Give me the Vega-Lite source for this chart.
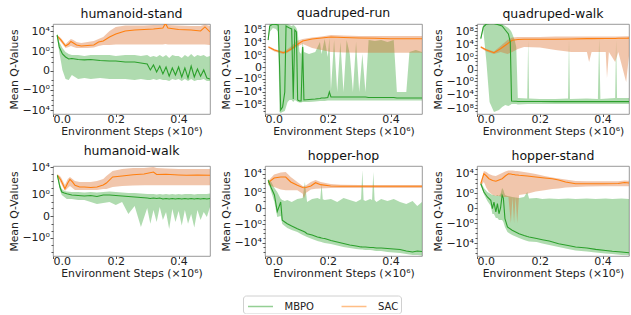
{
"$schema": "https://vega.github.io/schema/vega-lite/v6.json",
"padding": {"left": 8, "top": 6, "right": 0, "bottom": 0},
"datasets": {"d": [
{"p":"HS","m":"SAC","x":0.013,"y":1200,"lo":490,"hi":1900},
{"p":"HS","m":"SAC","x":0.025,"y":200,"lo":82,"hi":490},
{"p":"HS","m":"SAC","x":0.04,"y":13.5,"lo":5.5,"hi":33},
{"p":"HS","m":"SAC","x":0.05,"y":33,"lo":8.7,"hi":129},
{"p":"HS","m":"SAC","x":0.057,"y":103,"lo":13.5,"hi":317},
{"p":"HS","m":"SAC","x":0.065,"y":52,"lo":8.7,"hi":200},
{"p":"HS","m":"SAC","x":0.075,"y":21,"lo":5.5,"hi":82},
{"p":"HS","m":"SAC","x":0.09,"y":13.5,"lo":5.5,"hi":52},
{"p":"HS","m":"SAC","x":0.11,"y":17,"lo":5.5,"hi":82},
{"p":"HS","m":"SAC","x":0.13,"y":21,"lo":6.9,"hi":129},
{"p":"HS","m":"SAC","x":0.145,"y":82,"lo":13.5,"hi":317},
{"p":"HS","m":"SAC","x":0.16,"y":129,"lo":21,"hi":780},
{"p":"HS","m":"SAC","x":0.18,"y":780,"lo":21,"hi":11500},
{"p":"HS","m":"SAC","x":0.2,"y":2960,"lo":27,"hi":69000},
{"p":"HS","m":"SAC","x":0.23,"y":11500,"lo":27,"hi":135000},
{"p":"HS","m":"SAC","x":0.26,"y":18000,"lo":27,"hi":135000},
{"p":"HS","m":"SAC","x":0.29,"y":22000,"lo":27,"hi":135000},
{"p":"HS","m":"SAC","x":0.32,"y":28000,"lo":27,"hi":170000},
{"p":"HS","m":"SAC","x":0.35,"y":44000,"lo":27,"hi":170000},
{"p":"HS","m":"SAC","x":0.358,"y":330000,"lo":33,"hi":400000},
{"p":"HS","m":"SAC","x":0.366,"y":44000,"lo":27,"hi":170000},
{"p":"HS","m":"SAC","x":0.4,"y":22000,"lo":27,"hi":135000},
{"p":"HS","m":"SAC","x":0.44,"y":18000,"lo":27,"hi":107000},
{"p":"HS","m":"SAC","x":0.47,"y":11500,"lo":27,"hi":107000},
{"p":"HS","m":"SAC","x":0.484,"y":69000,"lo":27,"hi":210000},
{"p":"HS","m":"SAC","x":0.5,"y":7300,"lo":21,"hi":107000},
{"p":"HS","m":"MBPO","x":0.013,"y":1900,"lo":780,"hi":2960},
{"p":"HS","m":"MBPO","x":0.02,"y":8.7,"lo":0.92,"hi":82},
{"p":"HS","m":"MBPO","x":0.03,"y":0.37,"lo":0.00009,"hi":5.5},
{"p":"HS","m":"MBPO","x":0.04,"y":0.098,"lo":-0.0078,"hi":0.92},
{"p":"HS","m":"MBPO","x":0.05,"y":0.04,"lo":-0.0121,"hi":0.37},
{"p":"HS","m":"MBPO","x":0.06,"y":0.05,"lo":-0.00112,"hi":0.24},
{"p":"HS","m":"MBPO","x":0.08,"y":0.032,"lo":-0.0078,"hi":0.24},
{"p":"HS","m":"MBPO","x":0.1,"y":0.026,"lo":-0.0048,"hi":0.152},
{"p":"HS","m":"MBPO","x":0.12,"y":0.032,"lo":-0.0078,"hi":0.24},
{"p":"HS","m":"MBPO","x":0.15,"y":0.02,"lo":-0.0048,"hi":0.24},
{"p":"HS","m":"MBPO","x":0.18,"y":0.016,"lo":-0.0078,"hi":0.24},
{"p":"HS","m":"MBPO","x":0.2,"y":0.016,"lo":-0.0078,"hi":0.152},
{"p":"HS","m":"MBPO","x":0.23,"y":0.0103,"lo":-0.0078,"hi":0.24},
{"p":"HS","m":"MBPO","x":0.26,"y":0.0103,"lo":-0.0121,"hi":0.24},
{"p":"HS","m":"MBPO","x":0.28,"y":0.0065,"lo":-0.0078,"hi":0.152},
{"p":"HS","m":"MBPO","x":0.3,"y":0.0042,"lo":-0.0121,"hi":0.24},
{"p":"HS","m":"MBPO","x":0.31,"y":0.00009,"lo":-0.0121,"hi":0.098},
{"p":"HS","m":"MBPO","x":0.32,"y":0.0025,"lo":-0.0078,"hi":0.152},
{"p":"HS","m":"MBPO","x":0.33,"y":-0.00014,"lo":-0.0121,"hi":0.098},
{"p":"HS","m":"MBPO","x":0.34,"y":0.0015,"lo":-0.0078,"hi":0.24},
{"p":"HS","m":"MBPO","x":0.35,"y":-0.00063,"lo":-0.0121,"hi":0.098},
{"p":"HS","m":"MBPO","x":0.36,"y":0.0009,"lo":-0.0121,"hi":0.24},
{"p":"HS","m":"MBPO","x":0.37,"y":-0.0021,"lo":-0.0195,"hi":0.063},
{"p":"HS","m":"MBPO","x":0.38,"y":0.00051,"lo":-0.0078,"hi":0.24},
{"p":"HS","m":"MBPO","x":0.39,"y":-0.00112,"lo":-0.0121,"hi":0.152},
{"p":"HS","m":"MBPO","x":0.4,"y":0.0009,"lo":-0.0078,"hi":0.152},
{"p":"HS","m":"MBPO","x":0.41,"y":-0.003,"lo":-0.0195,"hi":0.063},
{"p":"HS","m":"MBPO","x":0.42,"y":0.00051,"lo":-0.0078,"hi":0.24},
{"p":"HS","m":"MBPO","x":0.43,"y":-0.0048,"lo":-0.0195,"hi":0.098},
{"p":"HS","m":"MBPO","x":0.44,"y":0.0015,"lo":-0.0078,"hi":0.37},
{"p":"HS","m":"MBPO","x":0.45,"y":-0.003,"lo":-0.0195,"hi":0.098},
{"p":"HS","m":"MBPO","x":0.46,"y":0.00024,"lo":-0.0121,"hi":0.24},
{"p":"HS","m":"MBPO","x":0.47,"y":-0.0021,"lo":-0.0121,"hi":0.152},
{"p":"HS","m":"MBPO","x":0.48,"y":0.00009,"lo":-0.0078,"hi":0.24},
{"p":"HS","m":"MBPO","x":0.49,"y":-0.0048,"lo":-0.0195,"hi":0.098},
{"p":"HS","m":"MBPO","x":0.5,"y":-0.0078,"lo":-0.0195,"hi":0.152},
{"p":"QR","m":"SAC","x":0.011,"y":475,"lo":233,"hi":950},
{"p":"QR","m":"SAC","x":0.03,"y":57,"lo":20,"hi":114},
{"p":"QR","m":"SAC","x":0.058,"y":8.4,"lo":3.4,"hi":20},
{"p":"QR","m":"SAC","x":0.07,"y":20,"lo":6.8,"hi":81},
{"p":"QR","m":"SAC","x":0.085,"y":140,"lo":57,"hi":950},
{"p":"QR","m":"SAC","x":0.1,"y":1900,"lo":475,"hi":33000},
{"p":"QR","m":"SAC","x":0.12,"y":33000,"lo":3900,"hi":134000},
{"p":"QR","m":"SAC","x":0.15,"y":134000,"lo":233,"hi":390000},
{"p":"QR","m":"SAC","x":0.18,"y":270000,"lo":57,"hi":790000},
{"p":"QR","m":"SAC","x":0.21,"y":550000,"lo":13.7,"hi":2300000},
{"p":"QR","m":"SAC","x":0.25,"y":390000,"lo":9.7,"hi":1600000},
{"p":"QR","m":"SAC","x":0.3,"y":270000,"lo":8.4,"hi":1100000},
{"p":"QR","m":"SAC","x":0.35,"y":220000,"lo":8.4,"hi":1100000},
{"p":"QR","m":"SAC","x":0.4,"y":165000,"lo":8.4,"hi":1100000},
{"p":"QR","m":"SAC","x":0.45,"y":165000,"lo":8.4,"hi":1100000},
{"p":"QR","m":"SAC","x":0.5,"y":165000,"lo":8.4,"hi":1100000},
{"p":"QR","m":"MBPO","x":0.01,"y":66000,"lo":16000,"hi":270000},
{"p":"QR","m":"MBPO","x":0.015,"y":1.3e9,"lo":1.9e7,"hi":5e9},
{"p":"QR","m":"MBPO","x":0.025,"y":5e9,"lo":3.1e8,"hi":1.1e10},
{"p":"QR","m":"MBPO","x":0.035,"y":3.7e9,"lo":1.6e8,"hi":1.1e10},
{"p":"QR","m":"MBPO","x":0.042,"y":2.6e9,"lo":1.9e7,"hi":1.1e10},
{"p":"QR","m":"MBPO","x":0.046,"y":0.0116,"lo":-1.6e10,"hi":1.1e10},
{"p":"QR","m":"MBPO","x":0.05,"y":-4e9,"lo":-3.4e10,"hi":5e9},
{"p":"QR","m":"MBPO","x":0.056,"y":-4.9e8,"lo":-1.6e10,"hi":5e9},
{"p":"QR","m":"MBPO","x":0.063,"y":-12000,"lo":-8.3e9,"hi":5e9},
{"p":"QR","m":"MBPO","x":0.067,"y":1.3e9,"lo":-4.9e8,"hi":5e9},
{"p":"QR","m":"MBPO","x":0.072,"y":6.4e8,"lo":-1.4e7,"hi":5e9},
{"p":"QR","m":"MBPO","x":0.078,"y":3.1e8,"lo":-3.4e6,"hi":2.6e9},
{"p":"QR","m":"MBPO","x":0.085,"y":1.6e8,"lo":-3.4e6,"hi":1.3e9},
{"p":"QR","m":"MBPO","x":0.09,"y":-1.7e6,"lo":-1.4e7,"hi":2.6e9},
{"p":"QR","m":"MBPO","x":0.095,"y":7.7e7,"lo":-3.4e6,"hi":1.3e9},
{"p":"QR","m":"MBPO","x":0.1,"y":1.9e7,"lo":-7e6,"hi":3.1e8},
{"p":"QR","m":"MBPO","x":0.104,"y":-3.4e6,"lo":-1.4e7,"hi":1.9e7},
{"p":"QR","m":"MBPO","x":0.11,"y":-7e6,"lo":-2e7,"hi":13.7},
{"p":"QR","m":"MBPO","x":0.115,"y":-7e6,"lo":-2e7,"hi":3.4},
{"p":"QR","m":"MBPO","x":0.12,"y":475,"lo":-1.4e7,"hi":16000},
{"p":"QR","m":"MBPO","x":0.124,"y":-3.4e6,"lo":-1.4e7,"hi":13.7},
{"p":"QR","m":"MBPO","x":0.14,"y":-2.4e6,"lo":-1.4e7,"hi":3.4},
{"p":"QR","m":"MBPO","x":0.16,"y":-1.7e6,"lo":-1e7,"hi":13.7},
{"p":"QR","m":"MBPO","x":0.175,"y":-1.2e6,"lo":-7e6,"hi":16000},
{"p":"QR","m":"MBPO","x":0.18,"y":-850000,"lo":-7e6,"hi":3.4},
{"p":"QR","m":"MBPO","x":0.19,"y":-850000,"lo":-7e6,"hi":134000},
{"p":"QR","m":"MBPO","x":0.2,"y":-590000,"lo":-4.9e6,"hi":0.4},
{"p":"QR","m":"MBPO","x":0.205,"y":-12000,"lo":-4.9e6,"hi":270000},
{"p":"QR","m":"MBPO","x":0.21,"y":-410000,"lo":-4.9e6,"hi":-2900},
{"p":"QR","m":"MBPO","x":0.22,"y":-410000,"lo":-4.9e6,"hi":66000},
{"p":"QR","m":"MBPO","x":0.23,"y":-410000,"lo":-4.9e6,"hi":-12000},
{"p":"QR","m":"MBPO","x":0.24,"y":-410000,"lo":-4.9e6,"hi":16000},
{"p":"QR","m":"MBPO","x":0.25,"y":-410000,"lo":-4.9e6,"hi":-12000},
{"p":"QR","m":"MBPO","x":0.26,"y":-410000,"lo":-4.9e6,"hi":66000},
{"p":"QR","m":"MBPO","x":0.27,"y":-410000,"lo":-4.9e6,"hi":3.4},
{"p":"QR","m":"MBPO","x":0.28,"y":-410000,"lo":-4.9e6,"hi":-12000},
{"p":"QR","m":"MBPO","x":0.29,"y":-410000,"lo":-4.9e6,"hi":16000},
{"p":"QR","m":"MBPO","x":0.3,"y":-410000,"lo":-4.9e6,"hi":-12000},
{"p":"QR","m":"MBPO","x":0.31,"y":-410000,"lo":-4.9e6,"hi":3.4},
{"p":"QR","m":"MBPO","x":0.32,"y":-410000,"lo":-4.9e6,"hi":-12000},
{"p":"QR","m":"MBPO","x":0.33,"y":-590000,"lo":-4.9e6,"hi":66000},
{"p":"QR","m":"MBPO","x":0.35,"y":-590000,"lo":-4.9e6,"hi":33000},
{"p":"QR","m":"MBPO","x":0.37,"y":-590000,"lo":-4.9e6,"hi":66000},
{"p":"QR","m":"MBPO","x":0.39,"y":-590000,"lo":-4.9e6,"hi":16000},
{"p":"QR","m":"MBPO","x":0.41,"y":-590000,"lo":-4.9e6,"hi":66000},
{"p":"QR","m":"MBPO","x":0.42,"y":-850000,"lo":-4.9e6,"hi":-12000},
{"p":"QR","m":"MBPO","x":0.44,"y":-850000,"lo":-4.9e6,"hi":-12000},
{"p":"QR","m":"MBPO","x":0.45,"y":-850000,"lo":-4.9e6,"hi":-12000},
{"p":"QR","m":"MBPO","x":0.46,"y":-850000,"lo":-4.9e6,"hi":13.7},
{"p":"QR","m":"MBPO","x":0.48,"y":-850000,"lo":-4.9e6,"hi":57},
{"p":"QR","m":"MBPO","x":0.5,"y":-850000,"lo":-4.9e6,"hi":13.7},
{"p":"QW","m":"SAC","x":0.012,"y":1900,"lo":950,"hi":3800},
{"p":"QW","m":"SAC","x":0.03,"y":240,"lo":85,"hi":475},
{"p":"QW","m":"SAC","x":0.054,"y":37,"lo":15,"hi":85},
{"p":"QW","m":"SAC","x":0.075,"y":585,"lo":60,"hi":3800},
{"p":"QW","m":"SAC","x":0.097,"y":18500,"lo":15,"hi":240000},
{"p":"QW","m":"SAC","x":0.112,"y":195000,"lo":60,"hi":1300000},
{"p":"QW","m":"SAC","x":0.13,"y":340000,"lo":475,"hi":1900000},
{"p":"QW","m":"SAC","x":0.15,"y":390000,"lo":1900,"hi":1900000},
{"p":"QW","m":"SAC","x":0.2,"y":390000,"lo":1300,"hi":1900000},
{"p":"QW","m":"SAC","x":0.25,"y":390000,"lo":240,"hi":2700000},
{"p":"QW","m":"SAC","x":0.3,"y":480000,"lo":60,"hi":2700000},
{"p":"QW","m":"SAC","x":0.35,"y":590000,"lo":60,"hi":2700000},
{"p":"QW","m":"SAC","x":0.357,"y":590000,"lo":0.06,"hi":2700000},
{"p":"QW","m":"SAC","x":0.365,"y":590000,"lo":60,"hi":2700000},
{"p":"QW","m":"SAC","x":0.41,"y":670000,"lo":60,"hi":2700000},
{"p":"QW","m":"SAC","x":0.414,"y":670000,"lo":-0.097,"hi":2700000},
{"p":"QW","m":"SAC","x":0.42,"y":670000,"lo":60,"hi":2700000},
{"p":"QW","m":"SAC","x":0.44,"y":670000,"lo":0.06,"hi":2700000},
{"p":"QW","m":"SAC","x":0.45,"y":770000,"lo":60,"hi":2700000},
{"p":"QW","m":"SAC","x":0.475,"y":830000,"lo":-1.5,"hi":3000000},
{"p":"QW","m":"SAC","x":0.485,"y":890000,"lo":30,"hi":3000000},
{"p":"QW","m":"SAC","x":0.5,"y":950000,"lo":30,"hi":3000000},
{"p":"QW","m":"MBPO","x":0.012,"y":590000,"lo":240000,"hi":1900000},
{"p":"QW","m":"MBPO","x":0.02,"y":1.9e9,"lo":2.4e8,"hi":7.7e9},
{"p":"QW","m":"MBPO","x":0.03,"y":1.5e10,"lo":0.06,"hi":2.2e10},
{"p":"QW","m":"MBPO","x":0.04,"y":2.2e10,"lo":-1.5e6,"hi":3e10},
{"p":"QW","m":"MBPO","x":0.054,"y":2.2e10,"lo":-1.6e9,"hi":3e10},
{"p":"QW","m":"MBPO","x":0.07,"y":7.7e9,"lo":-4e8,"hi":2.2e10},
{"p":"QW","m":"MBPO","x":0.08,"y":3.9e9,"lo":-4.9e7,"hi":1.5e10},
{"p":"QW","m":"MBPO","x":0.09,"y":2.4e8,"lo":-1.2e7,"hi":3.9e9},
{"p":"QW","m":"MBPO","x":0.1,"y":1.5e7,"lo":-2.5e7,"hi":9.7e8},
{"p":"QW","m":"MBPO","x":0.106,"y":60000,"lo":-1.2e7,"hi":2.4e8},
{"p":"QW","m":"MBPO","x":0.11,"y":-770000,"lo":-6.3e6,"hi":6.2e7},
{"p":"QW","m":"MBPO","x":0.12,"y":-950000,"lo":-6.3e6,"hi":240000},
{"p":"QW","m":"MBPO","x":0.125,"y":-950000,"lo":-6.3e6,"hi":1900},
{"p":"QW","m":"MBPO","x":0.13,"y":-1.1e6,"lo":-8.9e6,"hi":-97000},
{"p":"QW","m":"MBPO","x":0.16,"y":-1.1e6,"lo":-6.3e6,"hi":-140000},
{"p":"QW","m":"MBPO","x":0.163,"y":-1.1e6,"lo":-6.3e6,"hi":240000},
{"p":"QW","m":"MBPO","x":0.166,"y":-1.1e6,"lo":-6.3e6,"hi":-140000},
{"p":"QW","m":"MBPO","x":0.2,"y":-1.1e6,"lo":-6.3e6,"hi":-195000},
{"p":"QW","m":"MBPO","x":0.25,"y":-1.25e6,"lo":-6.3e6,"hi":-195000},
{"p":"QW","m":"MBPO","x":0.29,"y":-1.25e6,"lo":-6.3e6,"hi":-140000},
{"p":"QW","m":"MBPO","x":0.293,"y":-1.25e6,"lo":-6.3e6,"hi":240000},
{"p":"QW","m":"MBPO","x":0.296,"y":-1.25e6,"lo":-6.3e6,"hi":-195000},
{"p":"QW","m":"MBPO","x":0.35,"y":-1.25e6,"lo":-6.3e6,"hi":-140000},
{"p":"QW","m":"MBPO","x":0.385,"y":-1.25e6,"lo":-6.3e6,"hi":-195000},
{"p":"QW","m":"MBPO","x":0.389,"y":-1.25e6,"lo":-6.3e6,"hi":670000},
{"p":"QW","m":"MBPO","x":0.393,"y":-1.25e6,"lo":-6.3e6,"hi":-195000},
{"p":"QW","m":"MBPO","x":0.44,"y":-1.25e6,"lo":-6.3e6,"hi":-97000},
{"p":"QW","m":"MBPO","x":0.443,"y":-1.25e6,"lo":-6.3e6,"hi":240000},
{"p":"QW","m":"MBPO","x":0.446,"y":-1.25e6,"lo":-6.3e6,"hi":-97000},
{"p":"QW","m":"MBPO","x":0.5,"y":-1.25e6,"lo":-6.3e6,"hi":-97000},
{"p":"HW","m":"SAC","x":0.014,"y":635,"lo":366,"hi":990},
{"p":"HW","m":"SAC","x":0.025,"y":133,"lo":49,"hi":366},
{"p":"HW","m":"SAC","x":0.038,"y":7.5,"lo":3.5,"hi":25},
{"p":"HW","m":"SAC","x":0.047,"y":49,"lo":9.4,"hi":187},
{"p":"HW","m":"SAC","x":0.054,"y":167,"lo":18.3,"hi":366},
{"p":"HW","m":"SAC","x":0.062,"y":70,"lo":9.4,"hi":187},
{"p":"HW","m":"SAC","x":0.07,"y":23,"lo":4.8,"hi":96},
{"p":"HW","m":"SAC","x":0.085,"y":13,"lo":4.8,"hi":70},
{"p":"HW","m":"SAC","x":0.1,"y":13,"lo":4.8,"hi":70},
{"p":"HW","m":"SAC","x":0.12,"y":11,"lo":4.8,"hi":70},
{"p":"HW","m":"SAC","x":0.14,"y":13,"lo":4.8,"hi":96},
{"p":"HW","m":"SAC","x":0.16,"y":25,"lo":6.7,"hi":187},
{"p":"HW","m":"SAC","x":0.17,"y":49,"lo":6.7,"hi":505},
{"p":"HW","m":"SAC","x":0.19,"y":366,"lo":13,"hi":2600},
{"p":"HW","m":"SAC","x":0.22,"y":505,"lo":18.3,"hi":5200},
{"p":"HW","m":"SAC","x":0.255,"y":780,"lo":21.5,"hi":7300},
{"p":"HW","m":"SAC","x":0.29,"y":990,"lo":23,"hi":7300},
{"p":"HW","m":"SAC","x":0.32,"y":1900,"lo":23,"hi":10000},
{"p":"HW","m":"SAC","x":0.33,"y":840,"lo":23,"hi":7300},
{"p":"HW","m":"SAC","x":0.36,"y":900,"lo":23,"hi":6100},
{"p":"HW","m":"SAC","x":0.4,"y":710,"lo":23,"hi":5200},
{"p":"HW","m":"SAC","x":0.425,"y":635,"lo":23,"hi":5200},
{"p":"HW","m":"SAC","x":0.46,"y":710,"lo":23,"hi":5200},
{"p":"HW","m":"SAC","x":0.5,"y":635,"lo":23,"hi":5200},
{"p":"HW","m":"MBPO","x":0.014,"y":635,"lo":366,"hi":990},
{"p":"HW","m":"MBPO","x":0.022,"y":13,"lo":4.8,"hi":36},
{"p":"HW","m":"MBPO","x":0.028,"y":2.5,"lo":0.92,"hi":6.7},
{"p":"HW","m":"MBPO","x":0.036,"y":1.8,"lo":0.47,"hi":3.5},
{"p":"HW","m":"MBPO","x":0.044,"y":1.42,"lo":0.24,"hi":2.9},
{"p":"HW","m":"MBPO","x":0.06,"y":0.92,"lo":0.24,"hi":2.5},
{"p":"HW","m":"MBPO","x":0.08,"y":0.78,"lo":0.17,"hi":2.5},
{"p":"HW","m":"MBPO","x":0.1,"y":0.65,"lo":0.17,"hi":2.1},
{"p":"HW","m":"MBPO","x":0.12,"y":0.78,"lo":0.089,"hi":2.5},
{"p":"HW","m":"MBPO","x":0.14,"y":0.55,"lo":0.045,"hi":2.1},
{"p":"HW","m":"MBPO","x":0.16,"y":0.92,"lo":0.063,"hi":2.5},
{"p":"HW","m":"MBPO","x":0.18,"y":0.92,"lo":0.089,"hi":2.9},
{"p":"HW","m":"MBPO","x":0.2,"y":0.78,"lo":0.033,"hi":2.5},
{"p":"HW","m":"MBPO","x":0.22,"y":0.65,"lo":0.089,"hi":2.1},
{"p":"HW","m":"MBPO","x":0.24,"y":0.55,"lo":0.0008,"hi":1.8},
{"p":"HW","m":"MBPO","x":0.26,"y":0.47,"lo":0.023,"hi":1.8},
{"p":"HW","m":"MBPO","x":0.28,"y":0.4,"lo":-0.028,"hi":1.5},
{"p":"HW","m":"MBPO","x":0.3,"y":0.34,"lo":0.0114,"hi":1.27},
{"p":"HW","m":"MBPO","x":0.31,"y":0.28,"lo":-0.0087,"hi":1.27},
{"p":"HW","m":"MBPO","x":0.32,"y":0.34,"lo":0.0054,"hi":1.27},
{"p":"HW","m":"MBPO","x":0.33,"y":0.28,"lo":-0.0046,"hi":1.08},
{"p":"HW","m":"MBPO","x":0.34,"y":0.34,"lo":0.0164,"hi":1.27},
{"p":"HW","m":"MBPO","x":0.35,"y":0.24,"lo":-0.002,"hi":1.08},
{"p":"HW","m":"MBPO","x":0.36,"y":0.28,"lo":0.0024,"hi":1.27},
{"p":"HW","m":"MBPO","x":0.37,"y":0.24,"lo":-0.056,"hi":1.08},
{"p":"HW","m":"MBPO","x":0.38,"y":0.28,"lo":0.0081,"hi":1.27},
{"p":"HW","m":"MBPO","x":0.39,"y":0.24,"lo":-0.0046,"hi":1.08},
{"p":"HW","m":"MBPO","x":0.4,"y":0.28,"lo":0.0036,"hi":1.27},
{"p":"HW","m":"MBPO","x":0.41,"y":0.24,"lo":-0.0165,"hi":1.08},
{"p":"HW","m":"MBPO","x":0.42,"y":0.28,"lo":0.0054,"hi":1.27},
{"p":"HW","m":"MBPO","x":0.43,"y":0.24,"lo":-0.0087,"hi":1.27},
{"p":"HW","m":"MBPO","x":0.44,"y":0.28,"lo":0.0008,"hi":1.27},
{"p":"HW","m":"MBPO","x":0.45,"y":0.24,"lo":-0.032,"hi":1.08},
{"p":"HW","m":"MBPO","x":0.46,"y":0.28,"lo":0.0054,"hi":1.27},
{"p":"HW","m":"MBPO","x":0.47,"y":0.24,"lo":-0.002,"hi":1.27},
{"p":"HW","m":"MBPO","x":0.48,"y":0.28,"lo":0.0024,"hi":1.27},
{"p":"HW","m":"MBPO","x":0.49,"y":0.24,"lo":-0.0002,"hi":1.27},
{"p":"HW","m":"MBPO","x":0.5,"y":0.28,"lo":0.0164,"hi":1.5},
{"p":"HH","m":"SAC","x":0.01,"y":113,"lo":36,"hi":260},
{"p":"HH","m":"SAC","x":0.029,"y":1160,"lo":13.3,"hi":6700},
{"p":"HH","m":"SAC","x":0.05,"y":1900,"lo":3.8,"hi":18000},
{"p":"HH","m":"SAC","x":0.066,"y":1900,"lo":2.6,"hi":23000},
{"p":"HH","m":"SAC","x":0.082,"y":160,"lo":2.6,"hi":1900},
{"p":"HH","m":"SAC","x":0.103,"y":31,"lo":2.6,"hi":160},
{"p":"HH","m":"SAC","x":0.12,"y":10.3,"lo":0.47,"hi":21.6},
{"p":"HH","m":"SAC","x":0.124,"y":9.4,"lo":0.039,"hi":21.6},
{"p":"HH","m":"SAC","x":0.13,"y":10.3,"lo":0.67,"hi":28},
{"p":"HH","m":"SAC","x":0.146,"y":21.6,"lo":3.8,"hi":160},
{"p":"HH","m":"SAC","x":0.161,"y":113,"lo":5.7,"hi":430},
{"p":"HH","m":"SAC","x":0.177,"y":42,"lo":6.2,"hi":160},
{"p":"HH","m":"SAC","x":0.209,"y":21.6,"lo":8,"hi":60},
{"p":"HH","m":"SAC","x":0.241,"y":19,"lo":8,"hi":42},
{"p":"HH","m":"SAC","x":0.3,"y":19,"lo":8,"hi":36},
{"p":"HH","m":"SAC","x":0.4,"y":19,"lo":8,"hi":36},
{"p":"HH","m":"SAC","x":0.5,"y":19,"lo":8,"hi":36},
{"p":"HH","m":"MBPO","x":0.01,"y":375,"lo":160,"hi":715},
{"p":"HH","m":"MBPO","x":0.02,"y":8,"lo":1.1,"hi":160},
{"p":"HH","m":"MBPO","x":0.03,"y":0.25,"lo":0.0073,"hi":8},
{"p":"HH","m":"MBPO","x":0.039,"y":-0.0016,"lo":-0.028,"hi":1.1},
{"p":"HH","m":"MBPO","x":0.05,"y":0.0073,"lo":-0.0164,"hi":0.039},
{"p":"HH","m":"MBPO","x":0.055,"y":-0.14,"lo":-0.9,"hi":0.02},
{"p":"HH","m":"MBPO","x":0.063,"y":-0.33,"lo":-2.4,"hi":0.0124},
{"p":"HH","m":"MBPO","x":0.071,"y":-0.78,"lo":-6.6,"hi":0.02},
{"p":"HH","m":"MBPO","x":0.085,"y":-2.4,"lo":-18,"hi":0.0073},
{"p":"HH","m":"MBPO","x":0.103,"y":-9.4,"lo":-48,"hi":0.034},
{"p":"HH","m":"MBPO","x":0.12,"y":-29,"lo":-215,"hi":0.055},
{"p":"HH","m":"MBPO","x":0.127,"y":-48,"lo":-350,"hi":160},
{"p":"HH","m":"MBPO","x":0.134,"y":-113,"lo":-580,"hi":0.0073},
{"p":"HH","m":"MBPO","x":0.15,"y":-215,"lo":-1600,"hi":0.034},
{"p":"HH","m":"MBPO","x":0.167,"y":-580,"lo":-4200,"hi":0.055},
{"p":"HH","m":"MBPO","x":0.176,"y":-800,"lo":-6000,"hi":0.03},
{"p":"HH","m":"MBPO","x":0.18,"y":-960,"lo":-7000,"hi":60},
{"p":"HH","m":"MBPO","x":0.184,"y":-1100,"lo":-9000,"hi":0.03},
{"p":"HH","m":"MBPO","x":0.19,"y":-1200,"lo":-11500,"hi":0.02},
{"p":"HH","m":"MBPO","x":0.21,"y":-3300,"lo":-19000,"hi":0.034},
{"p":"HH","m":"MBPO","x":0.23,"y":-7000,"lo":-40000,"hi":0.0073},
{"p":"HH","m":"MBPO","x":0.25,"y":-15000,"lo":-84000,"hi":0.055},
{"p":"HH","m":"MBPO","x":0.27,"y":-31000,"lo":-140000,"hi":0.02},
{"p":"HH","m":"MBPO","x":0.29,"y":-51000,"lo":-230000,"hi":0.0073},
{"p":"HH","m":"MBPO","x":0.306,"y":-80000,"lo":-280000,"hi":0.03},
{"p":"HH","m":"MBPO","x":0.31,"y":-84000,"lo":-290000,"hi":54000},
{"p":"HH","m":"MBPO","x":0.314,"y":-84000,"lo":-330000,"hi":0.02},
{"p":"HH","m":"MBPO","x":0.32,"y":-84000,"lo":-370000,"hi":0.0124},
{"p":"HH","m":"MBPO","x":0.335,"y":-108000,"lo":-370000,"hi":0.034},
{"p":"HH","m":"MBPO","x":0.341,"y":-108000,"lo":-420000,"hi":0.02},
{"p":"HH","m":"MBPO","x":0.345,"y":-108000,"lo":-480000,"hi":23000},
{"p":"HH","m":"MBPO","x":0.349,"y":-120000,"lo":-520000,"hi":0.02},
{"p":"HH","m":"MBPO","x":0.355,"y":-140000,"lo":-610000,"hi":0.0073},
{"p":"HH","m":"MBPO","x":0.37,"y":-140000,"lo":-610000,"hi":0.034},
{"p":"HH","m":"MBPO","x":0.39,"y":-175000,"lo":-1000000,"hi":0.0124},
{"p":"HH","m":"MBPO","x":0.41,"y":-230000,"lo":-1300000,"hi":0.034},
{"p":"HH","m":"MBPO","x":0.43,"y":-290000,"lo":-1700000,"hi":0.0073},
{"p":"HH","m":"MBPO","x":0.45,"y":-610000,"lo":-2700000,"hi":0.0025},
{"p":"HH","m":"MBPO","x":0.47,"y":-1000000,"lo":-4500000,"hi":0.0124},
{"p":"HH","m":"MBPO","x":0.485,"y":-610000,"lo":-4500000,"hi":0.00069},
{"p":"HH","m":"MBPO","x":0.5,"y":-800000,"lo":-5800000,"hi":0.0073},
{"p":"HT","m":"SAC","x":0.012,"y":90,"lo":30,"hi":200},
{"p":"HT","m":"SAC","x":0.022,"y":10000,"lo":200,"hi":36000},
{"p":"HT","m":"SAC","x":0.03,"y":3400,"lo":11.8,"hi":23000},
{"p":"HT","m":"SAC","x":0.038,"y":960,"lo":1.8,"hi":8800},
{"p":"HT","m":"SAC","x":0.05,"y":410,"lo":0.44,"hi":4300},
{"p":"HT","m":"SAC","x":0.06,"y":280,"lo":0.27,"hi":3400},
{"p":"HT","m":"SAC","x":0.07,"y":520,"lo":0.27,"hi":7000},
{"p":"HT","m":"SAC","x":0.08,"y":960,"lo":0.17,"hi":14000},
{"p":"HT","m":"SAC","x":0.09,"y":3400,"lo":0.17,"hi":28000},
{"p":"HT","m":"SAC","x":0.1,"y":10000,"lo":0.17,"hi":46000},
{"p":"HT","m":"SAC","x":0.108,"y":8800,"lo":-0.8,"hi":46000},
{"p":"HT","m":"SAC","x":0.113,"y":7000,"lo":0.17,"hi":46000},
{"p":"HT","m":"SAC","x":0.118,"y":7000,"lo":-0.8,"hi":39000},
{"p":"HT","m":"SAC","x":0.123,"y":5400,"lo":0.17,"hi":36000},
{"p":"HT","m":"SAC","x":0.128,"y":5400,"lo":-0.8,"hi":36000},
{"p":"HT","m":"SAC","x":0.134,"y":4700,"lo":0.44,"hi":31000},
{"p":"HT","m":"SAC","x":0.16,"y":3400,"lo":0.8,"hi":18000},
{"p":"HT","m":"SAC","x":0.187,"y":2100,"lo":2.2,"hi":8800},
{"p":"HT","m":"SAC","x":0.215,"y":1330,"lo":4,"hi":3400},
{"p":"HT","m":"SAC","x":0.24,"y":960,"lo":7.3,"hi":1700},
{"p":"HT","m":"SAC","x":0.26,"y":520,"lo":9.3,"hi":1050},
{"p":"HT","m":"SAC","x":0.282,"y":200,"lo":15,"hi":650},
{"p":"HT","m":"SAC","x":0.314,"y":90,"lo":19,"hi":320},
{"p":"HT","m":"SAC","x":0.35,"y":90,"lo":24,"hi":280},
{"p":"HT","m":"SAC","x":0.4,"y":90,"lo":26,"hi":280},
{"p":"HT","m":"SAC","x":0.45,"y":98,"lo":26,"hi":280},
{"p":"HT","m":"SAC","x":0.47,"y":160,"lo":26,"hi":410},
{"p":"HT","m":"SAC","x":0.5,"y":90,"lo":26,"hi":280},
{"p":"HT","m":"MBPO","x":0.012,"y":90,"lo":48,"hi":200},
{"p":"HT","m":"MBPO","x":0.022,"y":1.8,"lo":0.69,"hi":11.8},
{"p":"HT","m":"MBPO","x":0.033,"y":0.17,"lo":0.025,"hi":1.8},
{"p":"HT","m":"MBPO","x":0.044,"y":0.035,"lo":0.0016,"hi":0.69},
{"p":"HT","m":"MBPO","x":0.049,"y":-0.00014,"lo":-0.011,"hi":0.44},
{"p":"HT","m":"MBPO","x":0.054,"y":0.0152,"lo":-0.011,"hi":0.44},
{"p":"HT","m":"MBPO","x":0.06,"y":-0.0037,"lo":-0.076,"hi":0.27},
{"p":"HT","m":"MBPO","x":0.065,"y":0.0064,"lo":-0.076,"hi":0.44},
{"p":"HT","m":"MBPO","x":0.07,"y":-0.0094,"lo":-0.19,"hi":0.27},
{"p":"HT","m":"MBPO","x":0.075,"y":0.00014,"lo":-0.19,"hi":0.69},
{"p":"HT","m":"MBPO","x":0.08,"y":0.37,"lo":-0.19,"hi":11.8},
{"p":"HT","m":"MBPO","x":0.084,"y":0.1,"lo":-0.5,"hi":4.6},
{"p":"HT","m":"MBPO","x":0.089,"y":-0.105,"lo":-5.3,"hi":0.44},
{"p":"HT","m":"MBPO","x":0.097,"y":-5.3,"lo":-57,"hi":0.27},
{"p":"HT","m":"MBPO","x":0.112,"y":-25,"lo":-230,"hi":0.17},
{"p":"HT","m":"MBPO","x":0.134,"y":-124,"lo":-960,"hi":0.1},
{"p":"HT","m":"MBPO","x":0.15,"y":-290,"lo":-2400,"hi":0.17},
{"p":"HT","m":"MBPO","x":0.16,"y":-470,"lo":-3900,"hi":1.8},
{"p":"HT","m":"MBPO","x":0.166,"y":-590,"lo":-4900,"hi":0.083},
{"p":"HT","m":"MBPO","x":0.19,"y":-1200,"lo":-6200,"hi":0.1},
{"p":"HT","m":"MBPO","x":0.208,"y":-2100,"lo":-12700,"hi":0.066},
{"p":"HT","m":"MBPO","x":0.23,"y":-3900,"lo":-26000,"hi":0.083},
{"p":"HT","m":"MBPO","x":0.26,"y":-14000,"lo":-66000,"hi":0.066},
{"p":"HT","m":"MBPO","x":0.29,"y":-33000,"lo":-170000,"hi":0.083},
{"p":"HT","m":"MBPO","x":0.314,"y":-66000,"lo":-350000,"hi":0.066},
{"p":"HT","m":"MBPO","x":0.35,"y":-105000,"lo":-550000,"hi":0.083},
{"p":"HT","m":"MBPO","x":0.378,"y":-200000,"lo":-900000,"hi":0.066},
{"p":"HT","m":"MBPO","x":0.41,"y":-350000,"lo":-1400000,"hi":0.083},
{"p":"HT","m":"MBPO","x":0.431,"y":-500000,"lo":-1800000,"hi":0.066},
{"p":"HT","m":"MBPO","x":0.46,"y":-700000,"lo":-2900000,"hi":0.083},
{"p":"HT","m":"MBPO","x":0.484,"y":-980000,"lo":-3300000,"hi":0.066},
{"p":"HT","m":"MBPO","x":0.5,"y":-1100000,"lo":-3700000,"hi":0.066}
]},
"columns": 3,
"spacing": {"column": 55, "row": 52},
"bounds": "flush",
"concat": [
{"title": "humanoid-stand", "width": 157, "height": 90, "data": {"name": "d"},
 "transform": [{"filter": "datum.p === 'HS'"}],
 "encoding": {"x": {"field": "x", "type": "quantitative", "scale": {"domain": [0, 0.5], "nice": false, "zero": false}, "axis": {"values": [0, 0.2, 0.4], "format": ".1f"}, "title": "Environment Steps (×10⁶)"}},
 "layer": [
  {"transform": [{"filter": "datum.m === 'MBPO'"}], "mark": {"type": "area", "clip": true, "fill": "#2ca02c", "fillOpacity": 0.38},
   "encoding": {"y": {"field": "lo", "type": "quantitative", "scale": {"type": "symlog", "constant": 0.0002, "domain": [-53000, 260000], "nice": false, "zero": false}, "axis": {"values": [-10000, -1, 0, 1, 10000], "labelExpr": "datum.value == 0 ? '0' : (datum.value < 0 ? '−' : '') + '10' + (abs(datum.value) >= 1e8 ? '⁸' : abs(datum.value) >= 1e4 ? '⁴' : '⁰')"}, "title": "Mean Q-Values"}, "y2": {"field": "hi"}}},
  {"transform": [{"filter": "datum.m === 'SAC'"}], "mark": {"type": "area", "clip": true, "fill": "#db6a25", "fillOpacity": 0.38},
   "encoding": {"y": {"field": "lo", "type": "quantitative", "axis": null}, "y2": {"field": "hi"}}},
  {"mark": {"type": "line", "clip": true, "strokeWidth": 1.1},
   "encoding": {"y": {"field": "y", "type": "quantitative", "axis": {"orient": "left", "values": [0.01, 0.1, 10, 100, 1000, 100000, -0.01, -0.1, -10, -100, -1000], "labels": false, "tickSize": 2, "title": null}},
    "color": {"field": "m", "type": "nominal", "scale": {"domain": ["MBPO", "SAC"], "range": ["#2ca02c", "#ff7f0e"]},
     "legend": {"orient": "none", "legendX": 190, "legendY": 271.5, "direction": "horizontal", "title": null, "symbolType": "M-1.56,0H1.56", "symbolSize": 256, "symbolOffset": 6.5, "symbolStrokeWidth": 1.5, "symbolOpacity": 0.5, "labelFont": "DejaVu Sans", "labelFontSize": 10, "labelColor": "#222", "labelOffset": 15, "columnPadding": 24.5, "strokeColor": "#d0d0d0", "padding": 2, "cornerRadius": 3}}}}
 ],
 "resolve": {"axis": {"y": "independent"}}},
{"title": "quadruped-run", "width": 157, "height": 90, "data": {"name": "d"},
 "transform": [{"filter": "datum.p === 'QR'"}],
 "encoding": {"x": {"field": "x", "type": "quantitative", "scale": {"domain": [0, 0.5], "nice": false, "zero": false}, "axis": {"values": [0, 0.2, 0.4], "format": ".1f"}, "title": "Environment Steps (×10⁶)"}},
 "layer": [
  {"transform": [{"filter": "datum.m === 'MBPO'"}], "mark": {"type": "area", "clip": true, "fill": "#2ca02c", "fillOpacity": 0.38},
   "encoding": {"y": {"field": "lo", "type": "quantitative", "scale": {"type": "symlog", "constant": 0.0003, "domain": [-6.9e10, 5.3e9], "nice": false, "zero": false}, "axis": {"values": [-1e8, -10000, -1, 0, 1, 10000, 1e8], "labelExpr": "datum.value == 0 ? '0' : (datum.value < 0 ? '−' : '') + '10' + (abs(datum.value) >= 1e8 ? '⁸' : abs(datum.value) >= 1e4 ? '⁴' : '⁰')"}, "title": "Mean Q-Values"}, "y2": {"field": "hi"}}},
  {"transform": [{"filter": "datum.m === 'SAC'"}], "mark": {"type": "area", "clip": true, "fill": "#db6a25", "fillOpacity": 0.38},
   "encoding": {"y": {"field": "lo", "type": "quantitative", "axis": null}, "y2": {"field": "hi"}}},
  {"mark": {"type": "line", "clip": true, "strokeWidth": 1.1},
   "encoding": {"y": {"field": "y", "type": "quantitative", "axis": {"orient": "left", "values": [0.01, 0.1, 10, 100, 1000, 100000, 1e6, 1e7, 1e9, -0.01, -0.1, -10, -100, -1000, -100000, -1e6, -1e7, -1e9, -1e10], "labels": false, "tickSize": 2, "title": null}},
    "color": {"field": "m", "type": "nominal"}}}
 ],
 "resolve": {"axis": {"y": "independent"}}},
{"title": "quadruped-walk", "width": 152, "height": 90, "data": {"name": "d"},
 "transform": [{"filter": "datum.p === 'QW'"}],
 "encoding": {"x": {"field": "x", "type": "quantitative", "scale": {"domain": [0, 0.48408], "nice": false, "zero": false}, "axis": {"values": [0, 0.2, 0.4], "format": ".1f"}, "title": "Environment Steps (×10⁶)"}},
 "layer": [
  {"transform": [{"filter": "datum.m === 'MBPO'"}], "mark": {"type": "area", "clip": true, "fill": "#2ca02c", "fillOpacity": 0.38},
   "encoding": {"y": {"field": "lo", "type": "quantitative", "scale": {"type": "symlog", "constant": 0.0003, "domain": [-6.3e9, 1.5e10], "nice": false, "zero": false}, "axis": {"values": [-1e8, -10000, -1, 0, 1, 10000, 1e8], "labelExpr": "datum.value == 0 ? '0' : (datum.value < 0 ? '−' : '') + '10' + (abs(datum.value) >= 1e8 ? '⁸' : abs(datum.value) >= 1e4 ? '⁴' : '⁰')"}, "title": "Mean Q-Values"}, "y2": {"field": "hi"}}},
  {"transform": [{"filter": "datum.m === 'SAC'"}], "mark": {"type": "area", "clip": true, "fill": "#db6a25", "fillOpacity": 0.38},
   "encoding": {"y": {"field": "lo", "type": "quantitative", "axis": null}, "y2": {"field": "hi"}}},
  {"mark": {"type": "line", "clip": true, "strokeWidth": 1.1},
   "encoding": {"y": {"field": "y", "type": "quantitative", "axis": {"orient": "left", "values": [0.01, 0.1, 10, 100, 1000, 100000, 1e6, 1e7, 1e9, 1e10, -0.01, -0.1, -10, -100, -1000, -100000, -1e6, -1e7, -1e9], "labels": false, "tickSize": 2, "title": null}},
    "color": {"field": "m", "type": "nominal"}}}
 ],
 "resolve": {"axis": {"y": "independent"}}},
{"title": "humanoid-walk", "width": 157, "height": 90, "data": {"name": "d"},
 "transform": [{"filter": "datum.p === 'HW'"}],
 "encoding": {"x": {"field": "x", "type": "quantitative", "scale": {"domain": [0, 0.5], "nice": false, "zero": false}, "axis": {"values": [0, 0.2, 0.4], "format": ".1f"}, "title": "Environment Steps (×10⁶)"}},
 "layer": [
  {"transform": [{"filter": "datum.m === 'MBPO'"}], "mark": {"type": "area", "clip": true, "fill": "#2ca02c", "fillOpacity": 0.38},
   "encoding": {"y": {"field": "lo", "type": "quantitative", "scale": {"type": "symlog", "constant": 0.0008, "domain": [-440, 14000], "nice": false, "zero": false}, "axis": {"values": [-1, 0, 1, 10000], "labelExpr": "datum.value == 0 ? '0' : (datum.value < 0 ? '−' : '') + '10' + (abs(datum.value) >= 1e8 ? '⁸' : abs(datum.value) >= 1e4 ? '⁴' : '⁰')"}, "title": "Mean Q-Values"}, "y2": {"field": "hi"}}},
  {"transform": [{"filter": "datum.m === 'SAC'"}], "mark": {"type": "area", "clip": true, "fill": "#db6a25", "fillOpacity": 0.38},
   "encoding": {"y": {"field": "lo", "type": "quantitative", "axis": null}, "y2": {"field": "hi"}}},
  {"mark": {"type": "line", "clip": true, "strokeWidth": 1.1},
   "encoding": {"y": {"field": "y", "type": "quantitative", "axis": {"orient": "left", "values": [0.01, 0.1, 10, 100, 1000, -0.01, -0.1, -10, -100], "labels": false, "tickSize": 2, "title": null}},
    "color": {"field": "m", "type": "nominal"}}}
 ],
 "resolve": {"axis": {"y": "independent"}}},
{"title": "hopper-hop", "width": 157, "height": 90, "data": {"name": "d"},
 "transform": [{"filter": "datum.p === 'HH'"}],
 "encoding": {"x": {"field": "x", "type": "quantitative", "scale": {"domain": [0, 0.5], "nice": false, "zero": false}, "axis": {"values": [0, 0.2, 0.4], "format": ".1f"}, "title": "Environment Steps (×10⁶)"}},
 "layer": [
  {"transform": [{"filter": "datum.m === 'MBPO'"}], "mark": {"type": "area", "clip": true, "fill": "#2ca02c", "fillOpacity": 0.38},
   "encoding": {"y": {"field": "lo", "type": "quantitative", "scale": {"type": "symlog", "constant": 0.00035, "domain": [-7.3e6, 450000], "nice": false, "zero": false}, "axis": {"values": [-10000, -1, 0, 1, 10000], "labelExpr": "datum.value == 0 ? '0' : (datum.value < 0 ? '−' : '') + '10' + (abs(datum.value) >= 1e8 ? '⁸' : abs(datum.value) >= 1e4 ? '⁴' : '⁰')"}, "title": "Mean Q-Values"}, "y2": {"field": "hi"}}},
  {"transform": [{"filter": "datum.m === 'SAC'"}], "mark": {"type": "area", "clip": true, "fill": "#db6a25", "fillOpacity": 0.38},
   "encoding": {"y": {"field": "lo", "type": "quantitative", "axis": null}, "y2": {"field": "hi"}}},
  {"mark": {"type": "line", "clip": true, "strokeWidth": 1.1},
   "encoding": {"y": {"field": "y", "type": "quantitative", "axis": {"orient": "left", "values": [0.01, 0.1, 10, 100, 1000, 100000, -0.01, -0.1, -10, -100, -1000, -100000, -1e6], "labels": false, "tickSize": 2, "title": null}},
    "color": {"field": "m", "type": "nominal"}}}
 ],
 "resolve": {"axis": {"y": "independent"}}},
{"title": "hopper-stand", "width": 152, "height": 90, "data": {"name": "d"},
 "transform": [{"filter": "datum.p === 'HT'"}],
 "encoding": {"x": {"field": "x", "type": "quantitative", "scale": {"domain": [0, 0.48408], "nice": false, "zero": false}, "axis": {"values": [0, 0.2, 0.4], "format": ".1f"}, "title": "Environment Steps (×10⁶)"}},
 "layer": [
  {"transform": [{"filter": "datum.m === 'MBPO'"}], "mark": {"type": "area", "clip": true, "fill": "#2ca02c", "fillOpacity": 0.38},
   "encoding": {"y": {"field": "lo", "type": "quantitative", "scale": {"type": "symlog", "constant": 0.0008, "domain": [-4.6e6, 380000], "nice": false, "zero": false}, "axis": {"values": [-10000, -1, 0, 1, 10000], "labelExpr": "datum.value == 0 ? '0' : (datum.value < 0 ? '−' : '') + '10' + (abs(datum.value) >= 1e8 ? '⁸' : abs(datum.value) >= 1e4 ? '⁴' : '⁰')"}, "title": "Mean Q-Values"}, "y2": {"field": "hi"}}},
  {"transform": [{"filter": "datum.m === 'SAC'"}], "mark": {"type": "area", "clip": true, "fill": "#db6a25", "fillOpacity": 0.38},
   "encoding": {"y": {"field": "lo", "type": "quantitative", "axis": null}, "y2": {"field": "hi"}}},
  {"mark": {"type": "line", "clip": true, "strokeWidth": 1.1},
   "encoding": {"y": {"field": "y", "type": "quantitative", "axis": {"orient": "left", "values": [0.01, 0.1, 10, 100, 1000, 100000, -0.01, -0.1, -10, -100, -1000, -100000, -1e6], "labels": false, "tickSize": 2, "title": null}},
    "color": {"field": "m", "type": "nominal"}}}
 ],
 "resolve": {"axis": {"y": "independent"}}}
],
"config": {
 "view": {"stroke": "#808080", "strokeWidth": 0.8},
 "axis": {"grid": false, "domain": false, "labelOverlap": false, "tickColor": "#555", "tickSize": 3.5, "labelFont": "DejaVu Sans", "labelFontSize": 11, "labelColor": "#222", "labelPadding": 1, "titleFont": "DejaVu Sans", "titleFontSize": 10.8, "titleFontWeight": "normal", "titleColor": "#222", "titlePadding": 1},
 "axisX": {"labelPadding": -3, "tickSize": 2.5, "titlePadding": 1},
 "axisY": {"titlePadding": 2, "tickSize": 3, "labelPadding": 0.5},
 "title": {"font": "DejaVu Sans", "fontSize": 12.5, "fontWeight": "normal", "color": "#111", "offset": 4}
}
}
